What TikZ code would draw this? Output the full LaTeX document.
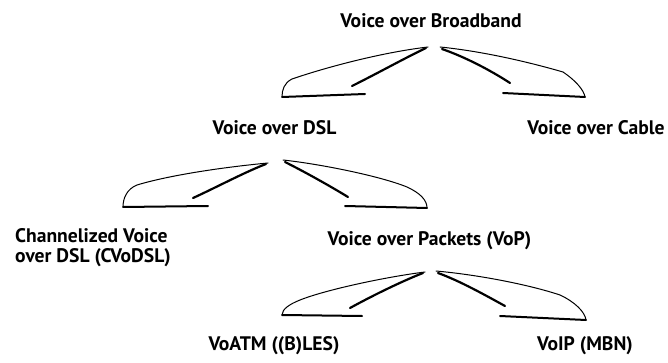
\documentclass[tikz,border=0pt]{standalone}
\usepackage{fontspec}
\setmainfont{PT Sans}
\begin{document}
\begin{tikzpicture}[x=1pt,y=-1pt,
  lbl/.style={inner sep=0pt,anchor=base,font=\bfseries\fontsize{19.6}{19.5}\selectfont},
  outl/.style={draw=black,line width=1pt,line join=round,line cap=round},
  innl/.style={draw=black,line width=2.2pt,line cap=round},
  basel/.style={draw=black,line width=2pt,line cap=round}]
\useasboundingbox (0,0) rectangle (668,363);
% labels
\node[lbl] (bb) at (431,28) {Voice over Broadband};
\node[lbl] (dsl) at (274.5,135) {Voice over DSL};
\node[lbl] (cable) at (596,135) {Voice over Cable};
\node[lbl,anchor=base west,align=left] (chan) at (15,262) {Channelized Voice\\over DSL (CVoDSL)};
\node[lbl] (vop) at (429.5,245) {Voice over Packets (VoP)};
\node[lbl] (voatm) at (274,350) {VoATM ((B)LES)};
\node[lbl] (voip) at (585,350) {VoIP (MBN)};
% swoosh arrows: Broadband -> DSL
\draw[outl] (428,47) .. controls (385,52) and (330,66) .. (292,79) .. controls (284,83) and (282,90) .. (282,97);
\draw[basel] (282,97) -- (365,94);
\draw[innl] (352,86) .. controls (380,72) and (405,58) .. (426,48);
% Broadband -> Cable
\draw[outl] (440,47) .. controls (480,51) and (525,61) .. (563,72) .. controls (575,80) and (584,90) .. (585,97);
\draw[basel] (585,97) -- (503,93);
\draw[innl] (510,83) .. controls (490,70) and (465,57) .. (442,49);
% DSL -> Channelized
\draw[outl] (268,163) .. controls (225,167) and (170,175) .. (137,185) .. controls (127,189) and (123,198) .. (123,207);
\draw[basel] (123,207) -- (208,206);
\draw[innl] (193,198) .. controls (215,188) and (245,172) .. (266,164);
% DSL -> VoP
\draw[outl] (283,160) .. controls (320,164) and (380,176) .. (407,187) .. controls (420,193) and (427,200) .. (427,208);
\draw[basel] (427,208) -- (345,206);
\draw[innl] (348,197) .. controls (330,186) and (305,172) .. (285,162);
% VoP -> VoATM
\draw[outl] (425,272) .. controls (385,277) and (325,290) .. (300,300) .. controls (290,304) and (282,309) .. (282,315);
\draw[basel] (282,315) -- (362,316);
\draw[innl] (350,308) .. controls (370,297) and (400,282) .. (423,273);
% VoP -> VoIP
\draw[outl] (436,271) .. controls (480,275) and (530,285) .. (560,295) .. controls (575,302) and (585,312) .. (586,320);
\draw[basel] (586,320) -- (500,316);
\draw[innl] (505,306) .. controls (485,295) and (460,281) .. (438,273);
\end{tikzpicture}
\end{document}
